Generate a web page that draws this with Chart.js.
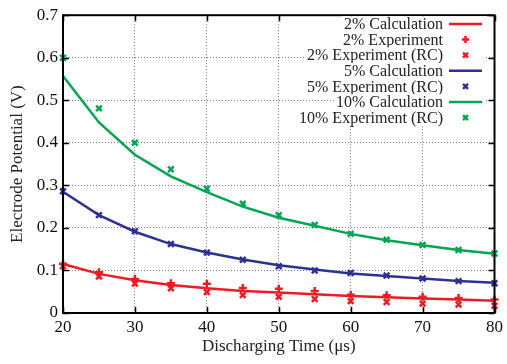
<!DOCTYPE html>
<html>
<head>
<meta charset="utf-8">
<script src="https://cdn.jsdelivr.net/npm/chart.js@4/dist/chart.umd.min.js"></script>
<style>
  html, body { margin: 0; background: #fff; }
  #wrap { width: 507px; height: 364px; }
</style>
</head>
<body>
<div id="wrap"><canvas id="chart"></canvas></div>
<script>
// ── Data ──────────────────────────────────────────────────────────────────────
const times = [20, 25, 30, 35, 40, 45, 50, 55, 60, 65, 70, 75, 80];

const calc2  = [0.115, 0.092, 0.077, 0.066, 0.058, 0.052, 0.048, 0.044, 0.040, 0.037, 0.034, 0.032, 0.029];
const exp2   = [0.116, 0.096, 0.080, 0.070, 0.069, 0.059, 0.057, 0.052, 0.043, 0.042, 0.038, 0.035, 0.032];
const rc2    = [0.110, 0.086, 0.069, 0.058, 0.049, 0.042, 0.038, 0.033, 0.028, 0.026, 0.022, 0.020, 0.017];
const calc5  = [0.285, 0.230, 0.191, 0.162, 0.142, 0.126, 0.112, 0.102, 0.093, 0.087, 0.081, 0.075, 0.071];
const rc5    = [0.286, 0.230, 0.192, 0.162, 0.142, 0.125, 0.110, 0.100, 0.094, 0.088, 0.081, 0.075, 0.070];
const calc10 = [0.557, 0.448, 0.372, 0.321, 0.284, 0.250, 0.224, 0.205, 0.186, 0.171, 0.159, 0.148, 0.139];
const rc10   = [0.600, 0.481, 0.400, 0.338, 0.292, 0.257, 0.230, 0.207, 0.186, 0.172, 0.160, 0.148, 0.140];

const RED = '#ed1c24', BLUE = '#2e3192', GREEN = '#00a651';
const FONT = '"Liberation Serif", "DejaVu Serif", serif';

const pts = vals => vals.map((v, i) => ({ x: times[i], y: v }));

const lineSet = (label, vals, color) => ({
  label, data: pts(vals), borderColor: color, backgroundColor: color,
  borderWidth: 2.5, pointRadius: 0, tension: 0, clip: false,
});
const markSet = (label, vals, color, style) => ({
  label, data: pts(vals), showLine: false, borderColor: color, backgroundColor: color,
  pointStyle: style, pointRadius: 4, pointBorderWidth: 2.5, clip: false,
});

// ── Gnuplot-style frame with inward ticks ─────────────────────────────────────
const framePlugin = {
  id: 'frame',
  afterDatasetsDraw(chart) {
    const { ctx, chartArea: a, scales: { x, y } } = chart;
    ctx.save();
    ctx.strokeStyle = '#000';
    ctx.lineWidth = 1.5;
    const t = 6;
    ctx.beginPath();
    x.ticks.forEach(tk => {
      const px = Math.round(x.getPixelForValue(tk.value)) + 0.5;
      ctx.moveTo(px, a.bottom); ctx.lineTo(px, a.bottom - t);
      ctx.moveTo(px, a.top);    ctx.lineTo(px, a.top + t);
    });
    y.ticks.forEach(tk => {
      const py = Math.round(y.getPixelForValue(tk.value)) + 0.5;
      ctx.moveTo(a.left, py);  ctx.lineTo(a.left + t, py);
      ctx.moveTo(a.right, py); ctx.lineTo(a.right - t, py);
    });
    ctx.stroke();
    ctx.lineWidth = 2;
    ctx.strokeRect(a.left, a.top, a.right - a.left, a.bottom - a.top);
    ctx.restore();
  }
};

// ── Key: right-aligned labels, sample on the right, opaque rows ───────────────
const keyPlugin = {
  id: 'key',
  afterDatasetsDraw(chart) {
    const ctx = chart.ctx;
    const textRight = 443, sx0 = 449, sx1 = 482, rowH = 15.6, y0 = 24;
    ctx.save();
    ctx.font = '16px ' + FONT;
    ctx.textAlign = 'right';
    ctx.textBaseline = 'middle';
    chart.data.datasets.forEach((ds, i) => {
      const y = y0 + i * rowH;
      const w = ctx.measureText(ds.label).width;
      ctx.fillStyle = '#fff';
      ctx.fillRect(textRight - w - 2, y - rowH / 2, sx1 + 4 - (textRight - w - 2), rowH);
      ctx.fillStyle = '#222';
      ctx.fillText(ds.label, textRight, y + 1);
      ctx.strokeStyle = ds.borderColor;
      ctx.lineWidth = 2.5;
      if (ds.showLine === false) {
        Chart.helpers.drawPoint(ctx, { pointStyle: ds.pointStyle, radius: 3.5, borderWidth: 2.5 }, (sx0 + sx1) / 2, y);
      } else {
        ctx.beginPath();
        ctx.moveTo(sx0, y); ctx.lineTo(sx1, y);
        ctx.stroke();
      }
    });
    ctx.restore();
  }
};

new Chart(document.getElementById('chart'), {
  type: 'line',
  data: {
    datasets: [
      lineSet('2% Calculation', calc2, RED),
      markSet('2% Experiment', exp2, RED, 'cross'),
      markSet('2% Experiment (RC)', rc2, RED, 'crossRot'),
      lineSet('5% Calculation', calc5, BLUE),
      markSet('5% Experiment (RC)', rc5, BLUE, 'crossRot'),
      lineSet('10% Calculation', calc10, GREEN),
      markSet('10% Experiment (RC)', rc10, GREEN, 'crossRot'),
    ],
  },
  options: {
    responsive: true,
    maintainAspectRatio: false,
    animation: false,
    layout: { padding: { top: 10, right: 11, left: 0, bottom: 0 } },
    plugins: { legend: { display: false }, tooltip: { enabled: false } },
    scales: {
      x: {
        type: 'linear', min: 20, max: 80,
        ticks: { stepSize: 10, color: '#111', padding: 4, font: { family: FONT, size: 17 } },
        grid: { color: '#777', lineWidth: 1, drawTicks: false },
        border: { display: false, dash: [1, 2] },
        title: { display: true, text: 'Discharging Time (μs)', color: '#222',
                 font: { family: FONT, size: 17 }, padding: { top: 0, bottom: 7 } },
        afterFit: s => { s.height = 51; },
      },
      y: {
        min: 0, max: 0.7,
        ticks: { stepSize: 0.1, color: '#111', padding: 5, font: { family: FONT, size: 17 } },
        grid: { color: '#777', lineWidth: 1, drawTicks: false },
        border: { display: false, dash: [1, 2] },
        title: { display: true, text: 'Electrode Potential (V)', color: '#222',
                 font: { family: FONT, size: 17 }, padding: { top: 7, bottom: 0 } },
        afterFit: s => { s.width = 63; },
      },
    },
  },
  plugins: [framePlugin, keyPlugin],
});
</script>
</body>
</html>
